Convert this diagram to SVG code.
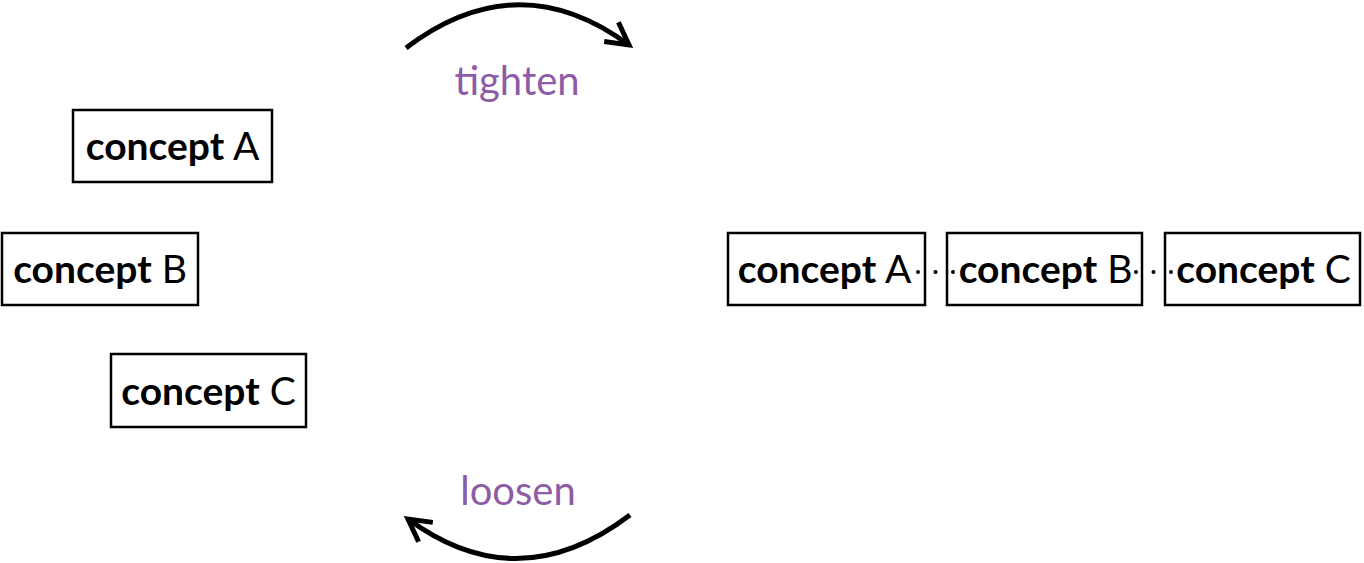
<svg xmlns="http://www.w3.org/2000/svg" width="1364" height="563" viewBox="0 0 1364 563">
<style>
  .box { fill: none; stroke: #000000; stroke-width: 2.5; }
  .lbl { font-family: Lato, "Open Sans", sans-serif; font-size: 39px; fill: #000000; text-anchor: middle; }
  .b { font-weight: bold; }
  .r { font-weight: normal; }
  .act { font-family: Lato, "Open Sans", sans-serif; font-size: 40px; fill: #8e5ba6; text-anchor: middle; }
  .arc { fill: none; stroke: #000000; stroke-width: 5; }
  .dot { fill: #000000; }
</style>
<defs>
  <marker id="head" markerUnits="userSpaceOnUse" markerWidth="40" markerHeight="40" refX="0" refY="0" viewBox="-30 -20 40 40" orient="auto" overflow="visible">
    <path d="M-22,-12 L0,0 L-22,12" fill="none" stroke="#000000" stroke-width="5" stroke-linecap="butt" stroke-linejoin="miter"/>
  </marker>
</defs>
<g id="connectors">
  <path class="arc" d="M406,48 Q518,-37 629,45" marker-end="url(#head)"/>
  <path class="arc" d="M630,515 Q518,600 408,519" marker-end="url(#head)"/>
  <g id="dots-AB">
    <circle class="dot" cx="918" cy="272" r="2"/>
    <circle class="dot" cx="935.5" cy="272" r="2"/>
    <circle class="dot" cx="953" cy="272" r="2"/>
  </g>
  <g id="dots-BC">
    <circle class="dot" cx="1136" cy="272" r="2"/>
    <circle class="dot" cx="1153.5" cy="272" r="2"/>
    <circle class="dot" cx="1171" cy="272" r="2"/>
  </g>
</g>
<g id="tighten"><text class="act" x="517" y="95">tighten</text></g>
<g id="loosen"><text class="act" x="518" y="505">loosen</text></g>
<g id="left-A">
  <rect class="box" x="73" y="110" width="199" height="72"/>
  <text class="lbl" x="172.5" y="160"><tspan class="b">concept</tspan><tspan class="r"> A</tspan></text>
</g>
<g id="left-B">
  <rect class="box" x="2" y="233" width="196" height="72"/>
  <text class="lbl" x="100" y="283"><tspan class="b">concept</tspan><tspan class="r"> B</tspan></text>
</g>
<g id="left-C">
  <rect class="box" x="111" y="354" width="195" height="73"/>
  <text class="lbl" x="208.5" y="405"><tspan class="b">concept</tspan><tspan class="r"> C</tspan></text>
</g>
<g id="right-A">
  <rect class="box" x="728" y="233" width="197" height="72"/>
  <text class="lbl" x="824.5" y="283"><tspan class="b">concept</tspan><tspan class="r"> A</tspan></text>
</g>
<g id="right-B">
  <rect class="box" x="947" y="233" width="195" height="72"/>
  <text class="lbl" x="1045.5" y="283"><tspan class="b">concept</tspan><tspan class="r"> B</tspan></text>
</g>
<g id="right-C">
  <rect class="box" x="1165" y="233" width="195" height="72"/>
  <text class="lbl" x="1263.5" y="283"><tspan class="b">concept</tspan><tspan class="r"> C</tspan></text>
</g>
</svg>
